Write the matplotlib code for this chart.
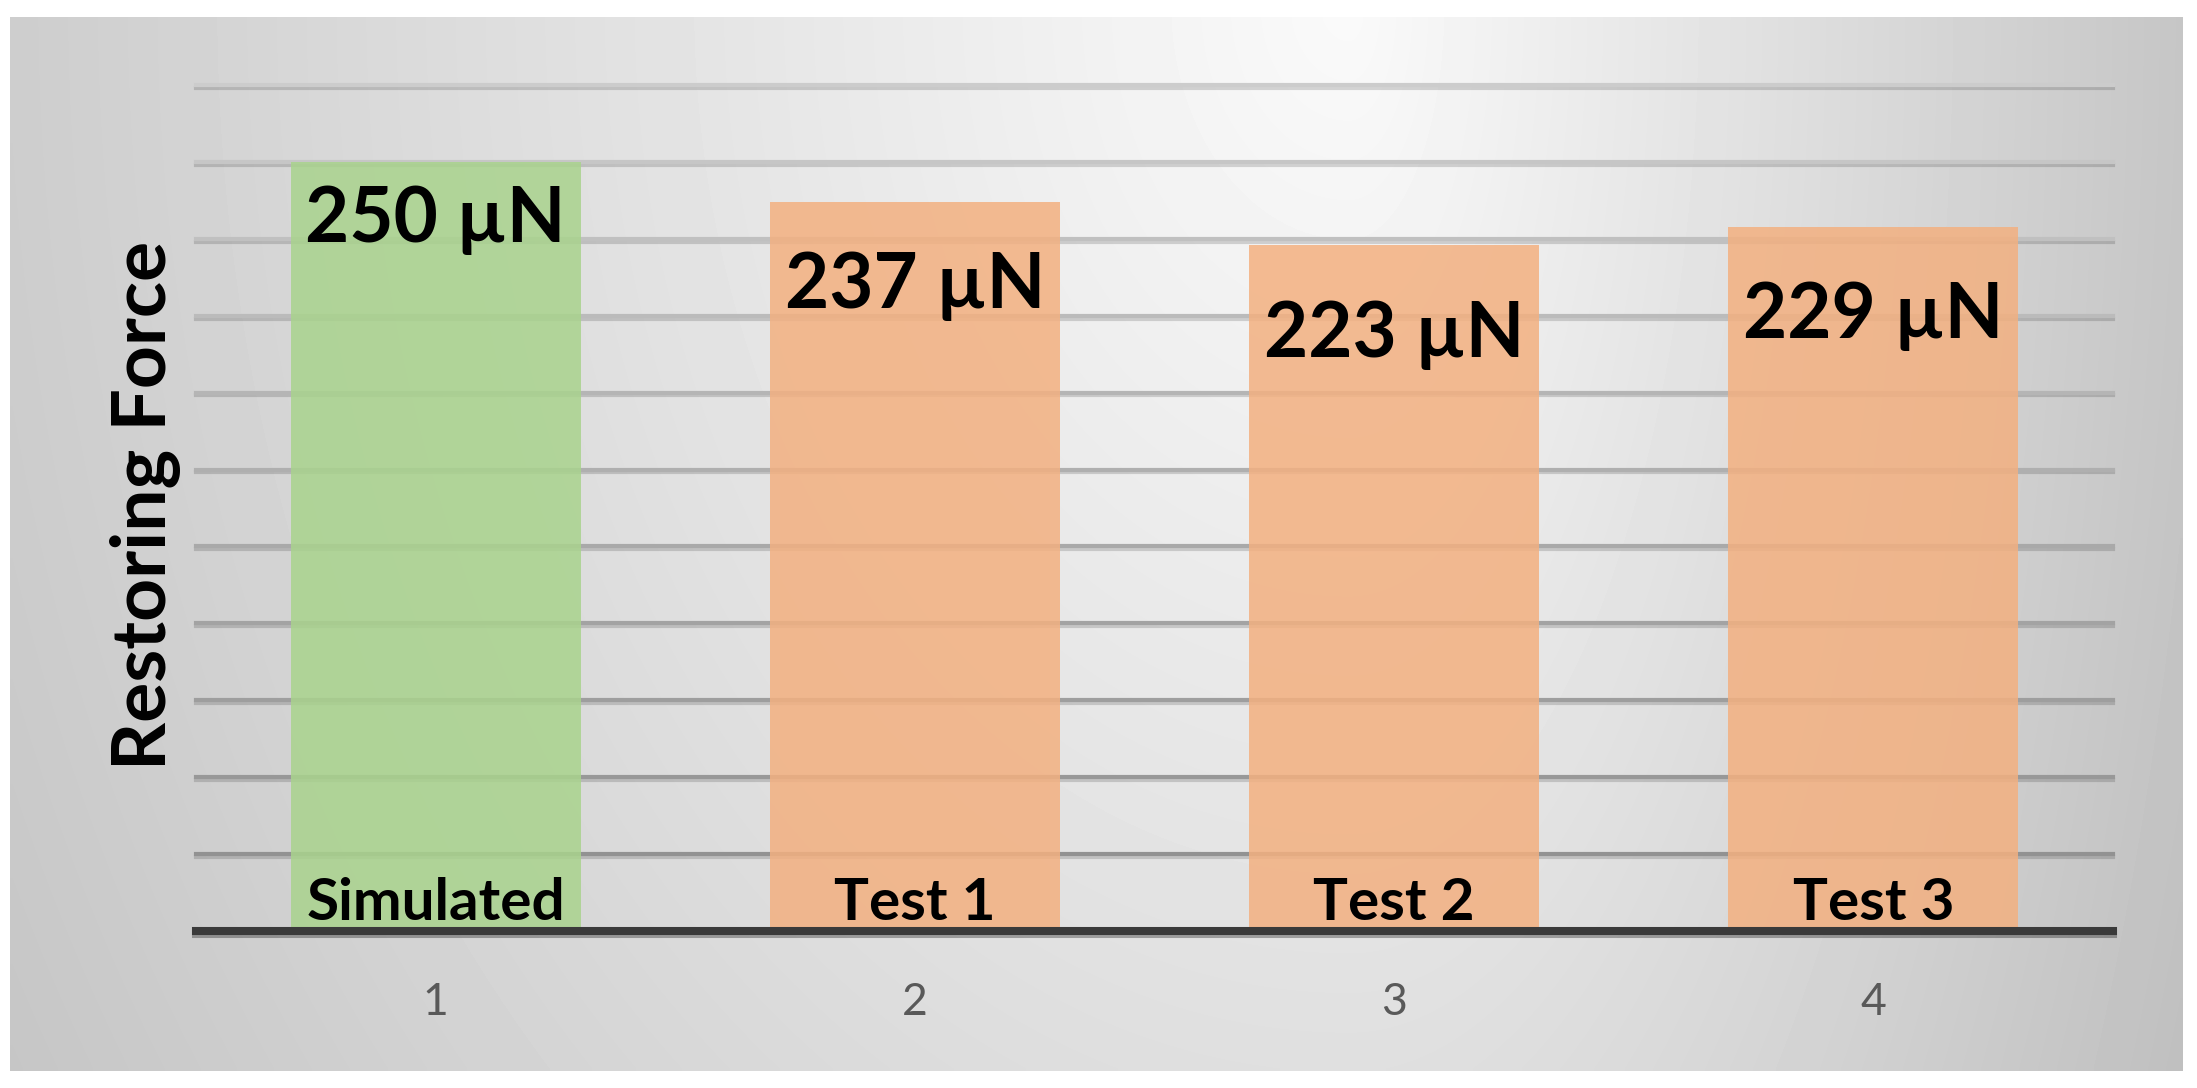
import numpy as np
import matplotlib
matplotlib.use("Agg")
import matplotlib.pyplot as plt
import matplotlib.patheffects as pe

plt.rcParams['font.family'] = ['Lato', 'DejaVu Sans']

# data
positions = [1, 2, 3, 4]
tick_labels = ['1', '2', '3', '4']
bar_names = ['Simulated', 'Test 1', 'Test 2', 'Test 3']
forces = [250, 237, 223, 229]          # restoring force, uN
bar_colors = ['#a9d38d', '#f3b080', '#f3b080', '#f3b080']
grid_values = list(range(25, 276, 25))

W, H = 2197, 1088
fig = plt.figure(figsize=(W / 100, H / 100), dpi=100)

# grey panel with a soft radial gradient (light near top centre)
bg = fig.add_axes([10 / W, 1 - 1071 / H, 2173 / W, 1054 / H], zorder=-10)
xx, yy = np.meshgrid(np.linspace(10, 2183, 400), np.linspace(17, 1071, 200))
dx = xx - 1350
sx = np.where(dx < 0, 1500.0, 800.0)
d = np.sqrt((dx / sx) ** 2 + ((yy - 0) / 2000.0) ** 2)
grey = np.clip(250 - 50 * d, 0, 255)
bg.imshow(grey, cmap='gray', vmin=0, vmax=255, aspect='auto',
          extent=[0, 1, 0, 1], interpolation='bilinear')
bg.axis('off')

ax = fig.add_axes([196 / W, 1 - 931 / H, 1917 / W, 846 / H], zorder=1)
ax.set_facecolor('none')

# gridlines, darker toward the bottom like the original
for v in grid_values:
    g = 0.55 + 0.25 * (v / 275.0)
    ax.axhline(v, color=(g, g, g), lw=3, zorder=1, clip_on=False,
               path_effects=[pe.SimpleLineShadow(offset=(0, -2), alpha=0.15), pe.Normal()])

bars = ax.bar(positions, forces, width=0.605, color=bar_colors, alpha=0.85, zorder=2)

ax.axhline(0, color='#3a3a3a', lw=5.8, zorder=3, clip_on=False,
           path_effects=[pe.SimpleLineShadow(offset=(0, -2), alpha=0.3), pe.Normal()])

drops = [-80, -106, -112, -111]
for b, v, name, dy in zip(bars, forces, bar_names, drops):
    xc = b.get_x() + b.get_width() / 2
    ax.annotate(f"{v} \u00b5N", (xc, v), xytext=(0, dy), textcoords='offset pixels',
                ha='center', va='baseline', fontsize=55, fontweight='bold',
                color='black', zorder=4)
    ax.annotate(name, (xc, 0), xytext=(0, 11), textcoords='offset pixels',
                ha='center', va='baseline', fontsize=42, fontweight='bold',
                color='black', zorder=4)

ax.set_xlim(0.5, 4.5)
ax.set_ylim(0, 275)
ax.set_xticks(positions)
ax.set_xticklabels(tick_labels, fontsize=32, color='#595959')
ax.tick_params(axis='x', length=0, pad=37)
ax.set_yticks([])
for s in ax.spines.values():
    s.set_visible(False)

fig.text(146 / W, 1 - 505 / H, 'Restoring Force', rotation=90, ha='center', va='center',
         fontsize=54, fontweight='bold', color='black')

fig.savefig('out.png', dpi=100)
